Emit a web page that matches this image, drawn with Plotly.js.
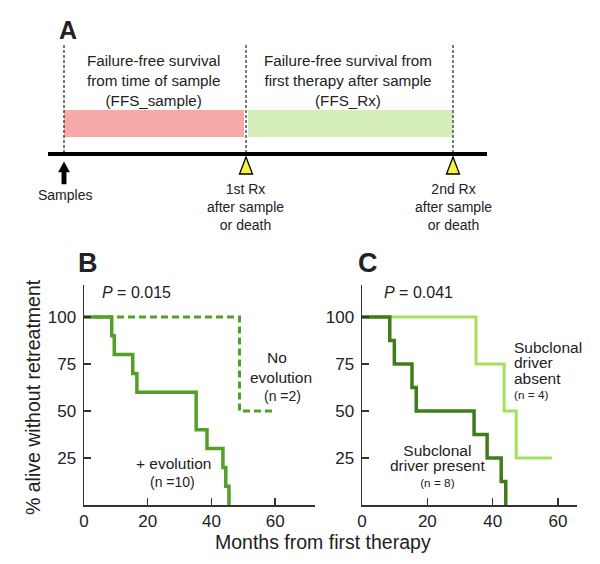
<!DOCTYPE html>
<html><head><meta charset="utf-8">
<script src="https://cdn.plot.ly/plotly-3.0.1.min.js"></script>
<style>html,body{margin:0;padding:0;background:#fff}#chart{width:600px;height:564px}</style>
</head><body><div id="chart"></div>
<script>
// ---- Data (panel B) ----
const evoTimes = [0, 8.7, 9.5, 15.3, 16.6, 35.2, 38.6, 43.6, 44.5, 45.5];
const evoSurv  = [100, 90, 80, 70, 60, 40, 30, 20, 10, 0];
const noEvoTimes = [0, 48.8, 59.6];
const noEvoSurv  = [100, 50, 50];
// ---- Data (panel C) ----
const presentTimes = [0, 8.5, 9.9, 15.3, 16.6, 34.3, 38.3, 42.6, 44.0];
const presentSurv  = [100, 87.5, 75, 62.5, 50, 37.5, 25, 12.5, 0];
const absentTimes  = [0, 34.9, 43.5, 47.2, 58.1];
const absentSurv   = [100, 75, 50, 25, 25];
// ---- Axis ticks ----
const xTicks = [0, 20, 40, 60];
const yTicks = [25, 50, 75, 100];
// ---- Panel A schematic (positions along schematic timeline) ----
const eventPos = [64, 246, 453];
const eventLabels = ['Samples', '1st Rx<br>after sample<br>or death', '2nd Rx<br>after sample<br>or death'];
const intervalNames = ['Failure-free survival<br>from time of sample<br>(FFS_sample)',
                       'Failure-free survival from<br>first therapy after sample<br>(FFS_Rx)'];
const intervalColors = ['#f7a8a8', '#d5edb9'];

const W = 600, H = 564;
const px = x => x / W, py = y => 1 - y / H;
const FONT = 'Liberation Sans, Arial, sans-serif';
const TXT = '#222';

const cB = '#52a027', cDark = '#3f7d1c', cLight = '#a3e05c';

const traces = [
  {x: noEvoTimes, y: noEvoSurv, xaxis: 'x', yaxis: 'y', mode: 'lines',
   line: {shape: 'hv', color: cB, width: 3, dash: '7px,4px'}},
  {x: evoTimes, y: evoSurv, xaxis: 'x', yaxis: 'y', mode: 'lines',
   line: {shape: 'hv', color: cB, width: 3.5}},
  {x: absentTimes, y: absentSurv, xaxis: 'x2', yaxis: 'y2', mode: 'lines',
   line: {shape: 'hv', color: cLight, width: 3}},
  {x: presentTimes, y: presentSurv, xaxis: 'x2', yaxis: 'y2', mode: 'lines',
   line: {shape: 'hv', color: cDark, width: 3.5}}
];

function ann(x, y, text, size, opts) {
  return Object.assign({x: px(x), y: py(y), xref: 'paper', yref: 'paper', text: text,
    showarrow: false, xanchor: 'center', yanchor: 'middle',
    font: {family: FONT, size: size, color: TXT}}, opts || {});
}
const big = s => `<span style="font-size:15.5px">${s}</span>`;

const shapes = [];
shapes.push({type: 'rect', xref: 'x3', yref: 'y3', x0: eventPos[0], x1: eventPos[1] - 2, y0: 110, y1: 137,
  fillcolor: intervalColors[0], line: {width: 0}, layer: 'below'});
shapes.push({type: 'rect', xref: 'x3', yref: 'y3', x0: eventPos[1] + 2, x1: eventPos[2], y0: 110, y1: 137,
  fillcolor: intervalColors[1], line: {width: 0}, layer: 'below'});
eventPos.forEach(p => shapes.push({type: 'line', xref: 'x3', yref: 'y3', x0: p, x1: p, y0: 45, y1: 152,
  line: {color: '#333', width: 1.3, dash: '3px,2px'}}));
shapes.push({type: 'line', xref: 'x3', yref: 'y3', x0: 48, x1: 487, y0: 154, y1: 154, line: {color: '#000', width: 4}});
const a = eventPos[0];
shapes.push({type: 'path', xref: 'x3', yref: 'y3',
  path: `M ${a-5.5} 172 L ${a} 162 L ${a+5.5} 172 L ${a+2.2} 172 L ${a+2.2} 184 L ${a-2.2} 184 L ${a-2.2} 172 Z`,
  fillcolor: '#000', line: {color: '#000', width: 0.5}});
[eventPos[1], eventPos[2]].forEach(p => shapes.push({type: 'path', xref: 'x3', yref: 'y3',
  path: `M ${p} 157 L ${p+6.5} 174 L ${p-6.5} 174 Z`, fillcolor: '#f8f23a', line: {color: '#000', width: 1.3}}));

const annotations = [
  ann(68, 30, '<b>A</b>', 25),
  ann(88, 263, '<b>B</b>', 27),
  ann(368, 263, '<b>C</b>', 27),
  ann(153, 81, intervalNames[0], 15.2),
  ann(348, 81, intervalNames[1], 15.2),
  ann(65, 195, eventLabels[0], 14),
  ann(245, 207, eventLabels[1], 14),
  ann(453, 207, eventLabels[2], 14),
  ann(100, 293, '<i>P</i> = 0.015', 16, {xanchor: 'left'}),
  ann(382, 293, '<i>P</i> = 0.041', 16, {xanchor: 'left'}),
  ann(277, 357, 'No', 15.5),
  ann(281, 377, 'evolution', 15.5),
  ann(282, 396, '(n =2)', 14),
  ann(173, 463, '+ evolution', 15.5),
  ann(172, 482, '(n =10)', 14),
  ann(512, 370, big('Subclonal') + '<br>' + big('driver') + '<br>' + big('absent') + '<br>(n = 4)', 11.8,
      {xanchor: 'left', align: 'left'}),
  ann(437, 466, big('Subclonal') + '<br>' + big('driver present') + '<br>(n = 8)', 11.8),
  ann(33, 397, '% alive without retreatment', 19.5, {textangle: -90}),
  ann(323, 542, 'Months from first therapy', 19.5)
];

const axBase = {showline: true, linecolor: '#333', linewidth: 1.5, ticks: 'inside', ticklen: 7,
  tickwidth: 1.5, tickcolor: '#333', showgrid: false, zeroline: false, fixedrange: true,
  tickfont: {family: FONT, size: 17, color: TXT}};

const layout = {
  width: W, height: H, margin: {l: 0, r: 0, t: 0, b: 0}, showlegend: false,
  paper_bgcolor: '#fff', plot_bgcolor: 'rgba(0,0,0,0)',
  xaxis: Object.assign({}, axBase, {domain: [84/W, 315/W], range: [0, 72.5], anchor: 'y', tickvals: xTicks}),
  yaxis: Object.assign({}, axBase, {domain: [59/H, 279/H], range: [0, 117], anchor: 'x', tickvals: yTicks, ticklabelstandoff: 3}),
  xaxis2: Object.assign({}, axBase, {domain: [362/W, 577/W], range: [0, 65.8], anchor: 'y2', tickvals: xTicks}),
  yaxis2: Object.assign({}, axBase, {domain: [59/H, 279/H], range: [0, 117], anchor: 'x2', tickvals: yTicks, ticklabelstandoff: 3}),
  xaxis3: {domain: [0, 1], range: [0, 600], visible: false, fixedrange: true, anchor: 'y3'},
  yaxis3: {domain: [0.5, 1], range: [282, 0], visible: false, fixedrange: true, anchor: 'x3'},
  shapes: shapes, annotations: annotations
};

Plotly.newPlot('chart', traces, layout, {staticPlot: true, displayModeBar: false});
</script></body></html>
